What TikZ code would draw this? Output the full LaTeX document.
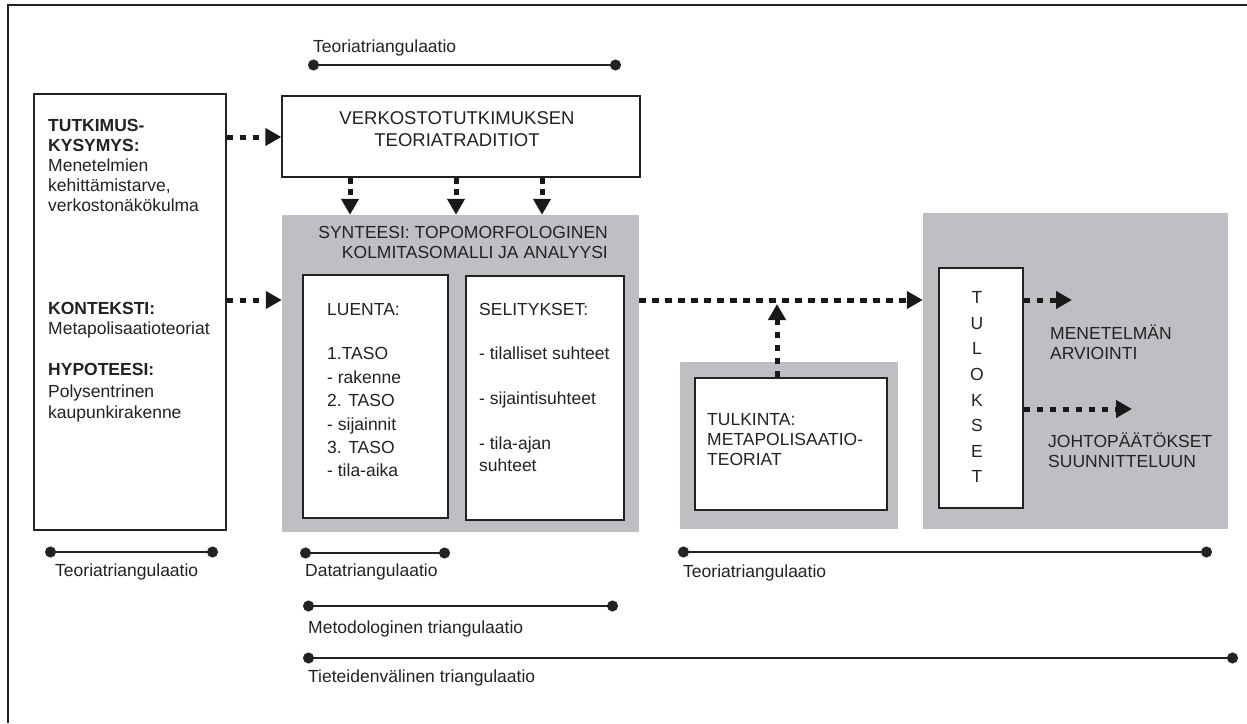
\documentclass[tikz,border=0pt]{standalone}
\usepackage{fontspec}
\setmainfont{Liberation Sans}
\usetikzlibrary{arrows.meta}

\definecolor{panelgray}{RGB}{190,191,195}
\definecolor{inkgray}{RGB}{34,34,34}

\tikzset{
	whitebox/.style={draw=inkgray, line width=1.3pt, fill=white, inner sep=0pt},
	panel/.style={fill=panelgray, draw=none, inner sep=0pt},
	dotflow/.style={draw=black!90, line width=5pt, dash pattern=on 6.5pt off 6.5pt, -{Triangle[length=16pt,width=17pt]}},
	triline/.style={draw=inkgray, line width=1.4pt, {Circle[length=11pt]}-{Circle[length=11pt]}},
	txt/.style={text=inkgray, inner sep=0pt, align=left, anchor=north west, font=\fontsize{17.5}{20}\selectfont},
	lbl/.style={text=inkgray, inner sep=0pt, anchor=west, font=\fontsize{17.5}{20}\selectfont},
}

\begin{document}
\begin{tikzpicture}[x=1pt,y=-1pt]

	\useasboundingbox (0,0) rectangle (1247,723);
	\draw[line width=2pt, inkgray] (1247,5) -- (8,5) -- (8,723);

	% left column
	\node[whitebox, minimum width=192pt, minimum height=436pt] (kysymys) at (130,312) {};
	\node[txt] (kysymysteksti) at (48,119.5) {\textbf{TUTKIMUS-}\\\textbf{KYSYMYS:}\\Menetelmien\\kehittämistarve,\\verkostonäkökulma};
	\node[txt] (konteksti) at (48,302.5) {\textbf{KONTEKSTI:}\\Metapolisaatioteoriat};
	\node[txt, font=\fontsize{17.5}{21.5}\selectfont] (hypoteesi) at (48,363.5) {\textbf{HYPOTEESI:}\\Polysentrinen\\kaupunkirakenne};

	% theory traditions
	\node[whitebox, minimum width=358pt, minimum height=81pt] (verkosto) at (461,136.5) {};
	\node[txt, anchor=north, align=center, font=\fontsize{18.5}{22}\selectfont] (verkostoteksti) at (457,111) {VERKOSTOTUTKIMUKSEN\\TEORIATRADITIOT};

	% synthesis panel
	\node[panel, minimum width=357pt, minimum height=317pt] (synteesi) at (460.5,373.5) {};
	\node[txt, anchor=north east, align=right] (synteesiteksti) at (608,226.5) {SYNTEESI: TOPOMORFOLOGINEN\\KOLMITASOMALLI JA ANALYYSI};
	\node[whitebox, minimum width=145pt, minimum height=243pt] (luenta) at (375.5,396.5) {};
	\node[txt] (luentaotsikko) at (327,303.5) {LUENTA:};
	\node[txt, font=\fontsize{17.5}{23.4}\selectfont] (luentalista) at (327,347.5) {1.TASO\\- rakenne\\2. TASO\\- sijainnit\\3. TASO\\- tila-aika};
	\node[whitebox, minimum width=158pt, minimum height=244pt] (selitykset) at (545,398) {};
	\node[txt] (selityksetotsikko) at (479,303.5) {SELITYKSET:};
	\node[txt, font=\fontsize{17.5}{22.5}\selectfont] (selityksetlista) at (479,346.5) {- tilalliset suhteet\\[22.5pt]- sijaintisuhteet\\[22.5pt]- tila-ajan\\suhteet};

	% interpretation
	\node[panel, minimum width=218pt, minimum height=167pt] (tulkintapaneeli) at (789,445.5) {};
	\node[whitebox, minimum width=192pt, minimum height=132pt] (tulkinta) at (791,444) {};
	\node[txt] (tulkintateksti) at (707,413.5) {TULKINTA:\\METAPOLISAATIO-\\TEORIAT};

	% results
	\node[panel, minimum width=305pt, minimum height=316pt] (tulospaneeli) at (1075.5,371) {};
	\node[whitebox, minimum width=84pt, minimum height=240pt] (tulokset) at (981,388) {};
	\node[txt, anchor=north, align=center, font=\fontsize{17.5}{25.6}\selectfont] (tuloksetteksti) at (977,291.5) {T\\U\\L\\O\\K\\S\\E\\T};
	\node[txt] (arviointi) at (1050,324.5) {MENETELMÄN\\ARVIOINTI};
	\node[txt] (johtopaatokset) at (1048,432.5) {JOHTOPÄÄTÖKSET\\SUUNNITTELUUN};

	% flows
	\coordinate (liitos) at (777,304);
	\coordinate (arviointipaa) at (1072,300);
	\coordinate (johtopaa) at (1132,409);
	\draw[dotflow] (kysymys.east |- 0,137) -- (verkosto.west |- 0,137);
	\draw[dotflow] (kysymys.east |- 0,300) -- (synteesi.west |- 0,300);
	\foreach \x in {350,456,542}
		\draw[dotflow, dash pattern=on 6pt off 5pt] (verkosto.south -| \x,0) -- (synteesi.north -| \x,0);
	\draw[dotflow] (synteesi.east |- 0,300) -- (tulospaneeli.west |- 0,300);
	\draw[dotflow] (tulkinta.north -| liitos) -- (liitos);
	\draw[dotflow] (tulokset.east |- arviointipaa) -- (arviointipaa);
	\draw[dotflow] (tulokset.east |- johtopaa) -- (johtopaa);

	% triangulations
	\coordinate (t1a) at (308,65);   \coordinate (t1b) at (621,65);
	\coordinate (t2a) at (45,552);   \coordinate (t2b) at (218,552);
	\coordinate (t3a) at (300,553);  \coordinate (t3b) at (450,553);
	\coordinate (t4a) at (678,552);  \coordinate (t4b) at (1212,552);
	\coordinate (t5a) at (303,606);  \coordinate (t5b) at (618,606);
	\coordinate (t6a) at (303,658);  \coordinate (t6b) at (1238,658);
	\draw[triline] (t1a) -- (t1b);
	\draw[triline] (t2a) -- (t2b);
	\draw[triline] (t3a) -- (t3b);
	\draw[triline] (t4a) -- (t4b);
	\draw[triline] (t5a) -- (t5b);
	\draw[triline] (t6a) -- (t6b);
	\node[lbl] (t1) at (313,48) {Teoriatriangulaatio};
	\node[lbl] (t2) at (55,572) {Teoriatriangulaatio};
	\node[lbl] (t3) at (305,572) {Datatriangulaatio};
	\node[lbl] (t4) at (683,573) {Teoriatriangulaatio};
	\node[lbl] (t5) at (308,629) {Metodologinen triangulaatio};
	\node[lbl] (t6) at (308,678) {Tieteidenvälinen triangulaatio};

\end{tikzpicture}
\end{document}
